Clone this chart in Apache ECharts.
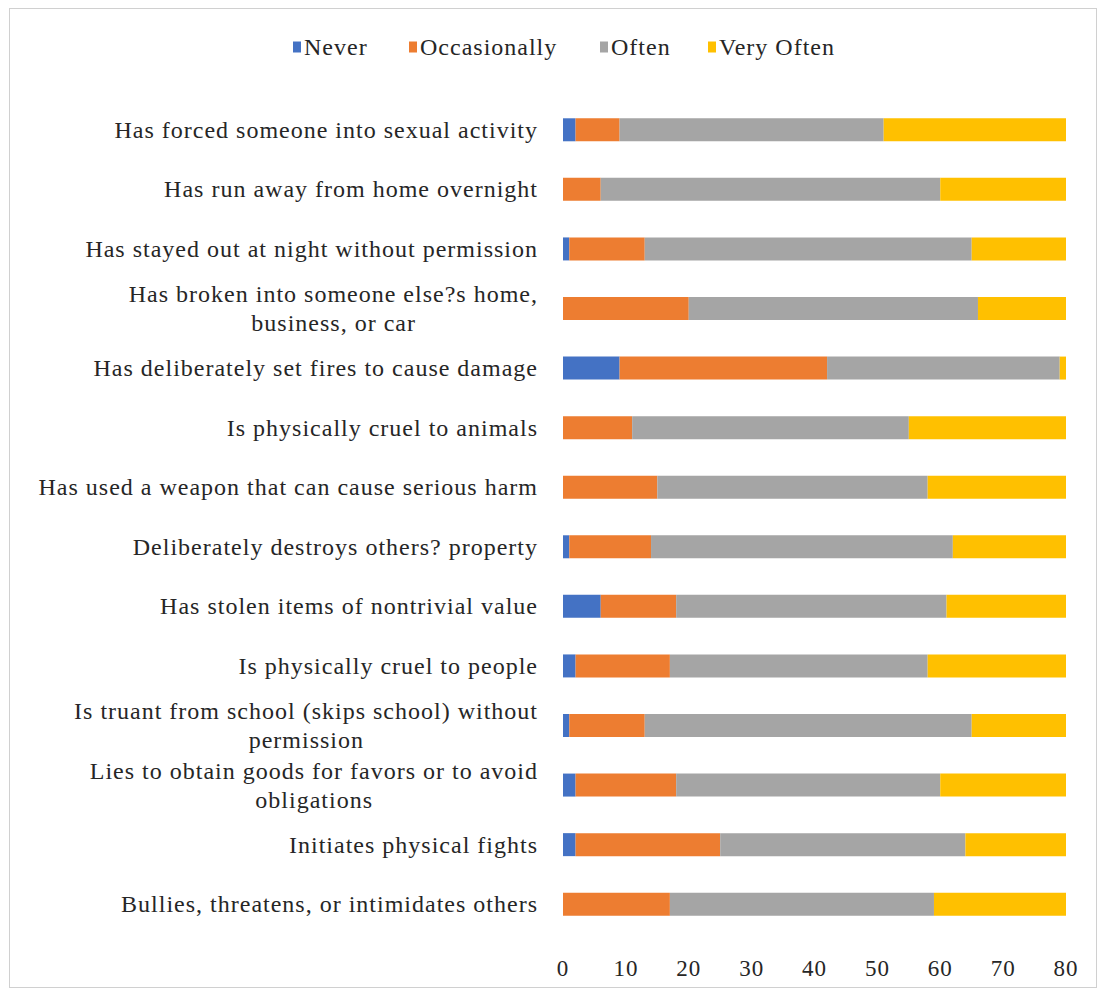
<!DOCTYPE html>
<html>
<head>
<meta charset="utf-8">
<script src="https://cdn.jsdelivr.net/npm/echarts@6/dist/echarts.min.js"></script>
<style>
  html, body { margin: 0; padding: 0; background: #fff; }
  #frame { position: absolute; left: 9px; top: 8px; width: 1086px; height: 978px; border: 1px solid #d0d0d0; }
  #main { position: absolute; left: 0; top: 0; width: 1104px; height: 990px; }
  /* 参考图里的文字字距偏宽 */
  #main text { letter-spacing: 1px; }
</style>
</head>
<body>
<div id="frame"></div>
<div id="main"></div>
<script>
// 行为条目（从上到下）
var categories = [
    'Has forced someone into sexual activity',
    'Has run away from home overnight',
    'Has stayed out at night without permission',
    'Has broken into someone else?s home,\nbusiness, or car',
    'Has deliberately set fires to cause damage',
    'Is physically cruel to animals',
    'Has used a weapon that can cause serious harm',
    'Deliberately destroys others? property',
    'Has stolen items of nontrivial value',
    'Is physically cruel to people',
    'Is truant from school (skips school) without\npermission',
    'Lies to obtain goods for favors or to avoid\nobligations',
    'Initiates physical fights',
    'Bullies, threatens, or intimidates others'
];

var never        = [2, 0, 1, 0, 9, 0, 0, 1, 6, 2, 1, 2, 2, 0];
var occasionally = [7, 6, 12, 20, 33, 11, 15, 13, 12, 15, 12, 16, 23, 17];
var often        = [42, 54, 52, 46, 37, 44, 43, 48, 43, 41, 52, 42, 39, 42];
var veryOften    = [29, 20, 15, 14, 1, 25, 22, 18, 19, 22, 15, 20, 16, 21];

var xTicks = [0, 10, 20, 30, 40, 50, 60, 70, 80];

var seriesNames = ['Never', 'Occasionally', 'Often', 'Very Often'];
var seriesColors = ['#4472C4', '#ED7D31', '#A5A5A5', '#FFC000'];

var font = 'Liberation Serif, Times New Roman, serif';
var labelSize = 24;

var myChart = echarts.init(document.getElementById('main'), null, { renderer: 'svg' });

// 多行标签：每行右对齐，短行后面补一个空白块，让它看起来居中
var measureCtx = document.createElement('canvas').getContext('2d');
measureCtx.font = labelSize + 'px ' + font;
function textW(s) {
    return measureCtx.measureText(s).width + s.length;
}

var labelRich = {
    c: { fontFamily: font, fontSize: labelSize, color: '#262626', align: 'right', lineHeight: 29 }
};
var labelText = {};
categories.forEach(function (cat, i) {
    var lines = cat.split('\n');
    var widths = lines.map(textW);
    var maxW = Math.max.apply(null, widths);
    labelText[cat] = lines.map(function (s, j) {
        var pad = Math.round((maxW - widths[j]) / 2);
        if (pad < 1) return '{c|' + s + '}';
        var key = 'p' + i + 'x' + j;
        labelRich[key] = { width: pad, fontFamily: font, fontSize: labelSize, align: 'right', lineHeight: 29 };
        return '{c|' + s + '}{' + key + '|\u00a0}';
    }).join('\n');
});

function makeSeries(name, data) {
    return {
        name: name,
        type: 'bar',
        stack: 'total',
        barWidth: 23,
        data: data
    };
}

// 图例各项单独摆放
var legendLeft = [288, 404, 595, 703];
var legends = seriesNames.map(function (n, i) {
    return {
        top: 30,
        left: legendLeft[i],
        itemWidth: 8,
        itemHeight: 11,
        textStyle: { fontFamily: font, fontSize: 24, color: '#262626', padding: [0, 0, 0, -2] },
        data: [{ name: n, icon: 'rect' }]
    };
});

var option = {
    animation: false,
    color: seriesColors,
    legend: legends,
    grid: {
        left: 563,
        right: 38,
        top: 100,
        bottom: 56
    },
    xAxis: {
        type: 'value',
        min: xTicks[0],
        max: xTicks[xTicks.length - 1],
        interval: 10,
        axisLine: { show: false },
        axisTick: { show: false },
        splitLine: { show: false },
        axisLabel: {
            margin: 23,
            fontFamily: font,
            fontSize: 23,
            color: '#262626'
        }
    },
    yAxis: {
        type: 'category',
        inverse: true,
        data: categories,
        axisLine: { show: false },
        axisTick: { show: false },
        axisLabel: {
            margin: 25,
            formatter: function (v) {
                return labelText[v];
            },
            rich: labelRich
        }
    },
    series: [
        makeSeries(seriesNames[0], never),
        makeSeries(seriesNames[1], occasionally),
        makeSeries(seriesNames[2], often),
        makeSeries(seriesNames[3], veryOften)
    ]
};

myChart.setOption(option);
</script>
</body>
</html>
